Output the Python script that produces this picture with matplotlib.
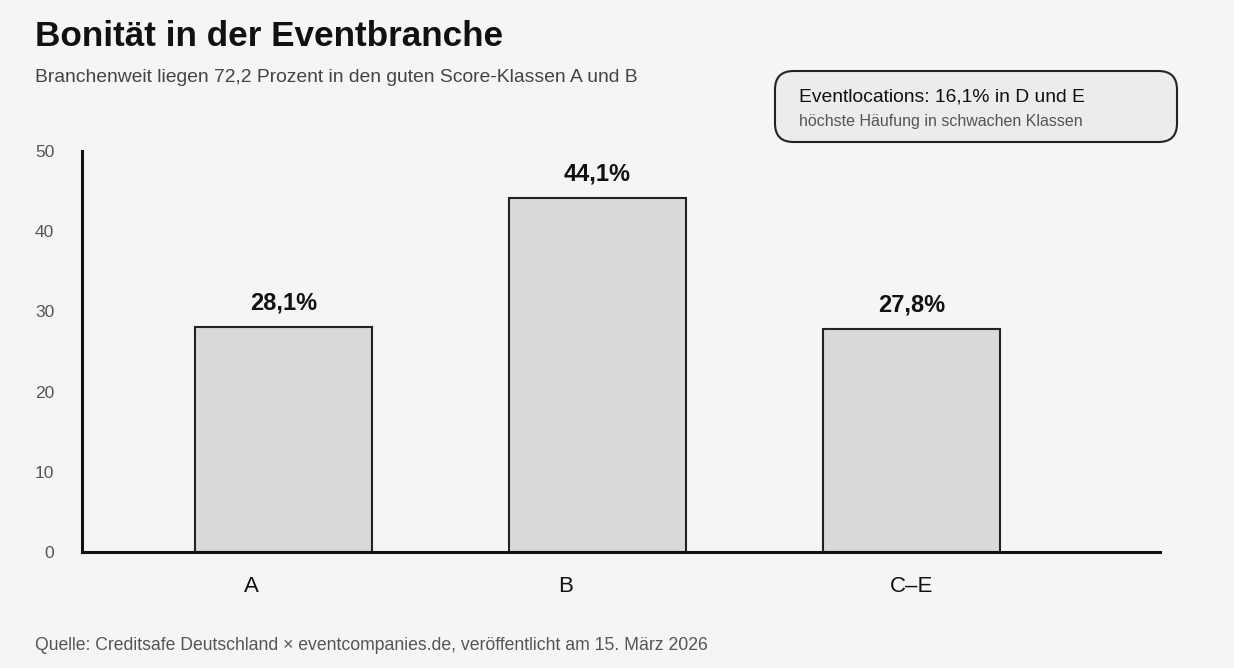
import matplotlib
matplotlib.use("Agg")
import matplotlib.pyplot as plt
from matplotlib.patches import FancyBboxPatch
from matplotlib.transforms import ScaledTranslation

plt.rcParams['font.family'] = ['Liberation Sans', 'DejaVu Sans']

categories = ["A", "B", "C–E"]
values = [28.1, 44.1, 27.8]
value_labels = ["28,1%", "44,1%", "27,8%"]
yticks = [0, 10, 20, 30, 40, 50]

title = "Bonität in der Eventbranche"
subtitle = "Branchenweit liegen 72,2 Prozent in den guten Score-Klassen A und B"
box_line1 = "Eventlocations: 16,1% in D und E"
box_line2 = "höchste Häufung in schwachen Klassen"
source = "Quelle: Creditsafe Deutschland × eventcompanies.de, veröffentlicht am 15. März 2026"

W, H = 1234, 668
bg = "#f5f5f5"
fig = plt.figure(figsize=(W / 100, H / 100), dpi=100, facecolor=bg)

# axes placement in pixels
ax_l, ax_r, ax_t, ax_b = 82, 1160, 151, 552
ax = fig.add_axes([ax_l / W, 1 - ax_b / H, (ax_r - ax_l) / W, (ax_b - ax_t) / H])
ax.set_facecolor(bg)

x = list(range(len(categories)))
bars = ax.bar(x, values, width=0.564, color="#d9d9d9", edgecolor="#222222", linewidth=1.5, zorder=2)
ax.set_xlim(-0.642, 2.791)
ax.set_ylim(0, 50)

for rect, lab in zip(bars, value_labels):
    ax.annotate(lab, (rect.get_x() + rect.get_width() / 2, rect.get_height()),
                xytext=(0, 9), textcoords="offset points", ha="center", va="bottom",
                fontsize=17, fontweight="bold", color="#111111")

for s in ["top", "right"]:
    ax.spines[s].set_visible(False)
for s in ["left", "bottom"]:
    ax.spines[s].set_color("#111111")
    ax.spines[s].set_linewidth(2.2)

ax.set_yticks(yticks)
ax.set_yticklabels([str(t) for t in yticks])
ax.tick_params(axis="y", length=0, pad=20, labelsize=12.5, labelcolor="#555555")
ax.set_xticks(x)
ax.set_xticklabels(categories)
ax.tick_params(axis="x", length=0, pad=17, labelsize=16, labelcolor="#111111")
# shift first two labels left to match reference
shifts = [-32, -32, 0]
for lbl, dx in zip(ax.get_xticklabels(), shifts):
    lbl.set_transform(lbl.get_transform() + ScaledTranslation(dx / 100, 0, fig.dpi_scale_trans))

# Title and subtitle
fig.text(35 / W, 1 - 36.5 / H, title, fontsize=25.3, fontweight="bold", color="#111111", va="center", ha="left")
fig.text(35 / W, 1 - 77.5 / H, subtitle, fontsize=13.9, color="#444444", va="center", ha="left")

# Info box
bx0, by0, bx1, by1 = 775, 71, 1177, 142
box = FancyBboxPatch((bx0 / W, 1 - by1 / H), (bx1 - bx0) / W, (by1 - by0) / H,
                     boxstyle="round,pad=0,rounding_size=0.015", transform=fig.transFigure,
                     facecolor="#ececec", edgecolor="#222222", linewidth=1.5,
                     mutation_aspect=W / H)
fig.patches.append(box)
fig.text(799 / W, 1 - 97.5 / H, box_line1, fontsize=13.85, color="#111111", va="center", ha="left")
fig.text(799 / W, 1 - 121.5 / H, box_line2, fontsize=11.5, color="#555555", va="center", ha="left")

# Source
fig.text(35 / W, 1 - 645 / H, source, fontsize=12.7, color="#555555", va="center", ha="left")

fig.savefig("out.png", dpi=100, facecolor=bg)
